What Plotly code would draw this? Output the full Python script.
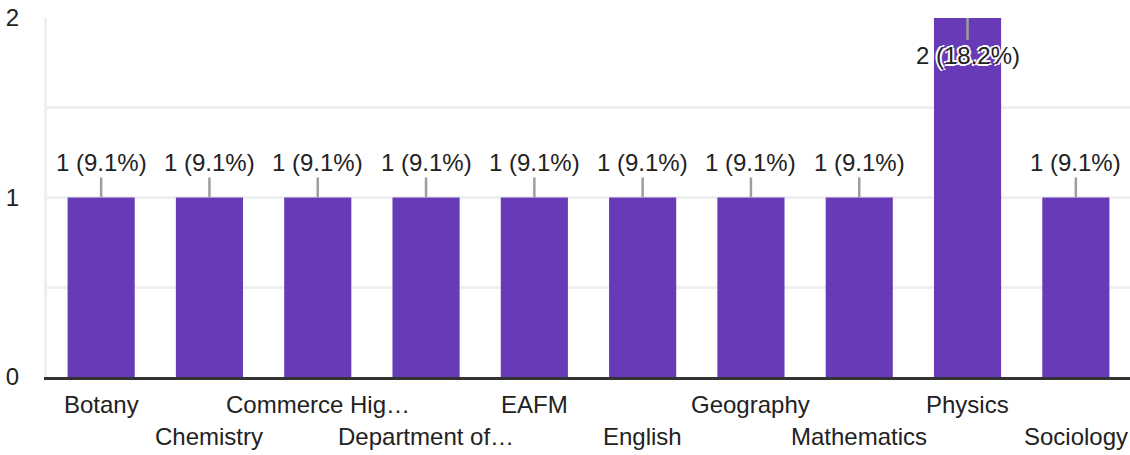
import plotly.graph_objects as go

categories = ["Botany", "Chemistry", "Commerce Hig…", "Department of…", "EAFM",
              "English", "Geography", "Mathematics", "Physics", "Sociology"]
counts = [1, 1, 1, 1, 1, 1, 1, 1, 2, 1]
labels = ["1 (9.1%)"] * 8 + ["2 (18.2%)", "1 (9.1%)"]
ytick_vals = [0, 0.5, 1, 1.5, 2]
ytick_text = ["0", "", "1", "", "2"]

PURPLE = "#673ab7"
TEXT = "#222222"
FONT = "Arial, Liberation Sans, sans-serif"

fig = go.Figure(go.Bar(x=categories, y=counts, marker_color=PURPLE,
                       marker_line_width=0, hoverinfo="skip"))

ymax = max(counts)
anns = []
for i, (c, v, t) in enumerate(zip(categories, counts, labels)):
    inside = v == ymax
    anns.append(dict(
        x=c, y=v, xref="x", yref="y", text=t, showarrow=True,
        arrowhead=0, arrowwidth=2.5, arrowcolor="#9e9e9e", standoff=0,
        ax=0, ay=(37 if inside else -35),
        font=dict(family=FONT, size=24, color=TEXT,
                  shadow=("2px 1px 0px #fff, -2px -1px 0px #fff, 1px -2px 0px #fff, -1px 2px 0px #fff"
                          if inside else "none")),
    ))
    anns.append(dict(
        x=c, y=0, xref="x", yref="paper", text=c, showarrow=False,
        yanchor="middle", yshift=(-27 if i % 2 == 0 else -59),
        font=dict(family=FONT, size=24, color=TEXT),
    ))

fig.update_layout(
    width=1130, height=455,
    margin=dict(l=47, r=0, t=18, b=78),
    paper_bgcolor="white", plot_bgcolor="white",
    bargap=0.38, showlegend=False,
    annotations=anns,
    font=dict(family=FONT, size=24, color=TEXT),
)
fig.update_xaxes(showticklabels=False, showgrid=False, zeroline=False,
                 showline=True, linecolor="#333333", linewidth=3,
                 fixedrange=True)
fig.update_yaxes(range=[0, 2], tickvals=ytick_vals, ticktext=ytick_text,
                 showgrid=True, gridcolor="#efefef", gridwidth=3,
                 zeroline=False, showline=True, linecolor="#efefef", linewidth=3,
                 ticks="outside", ticklen=20, tickcolor="rgba(0,0,0,0)",
                 ticklabeloverflow="allow",
                 tickfont=dict(family=FONT, size=24, color=TEXT),
                 fixedrange=True)

fig.write_html("out.html", config={"displayModeBar": False},
               post_script="document.body.style.margin='0';document.body.style.overflow='hidden';")
